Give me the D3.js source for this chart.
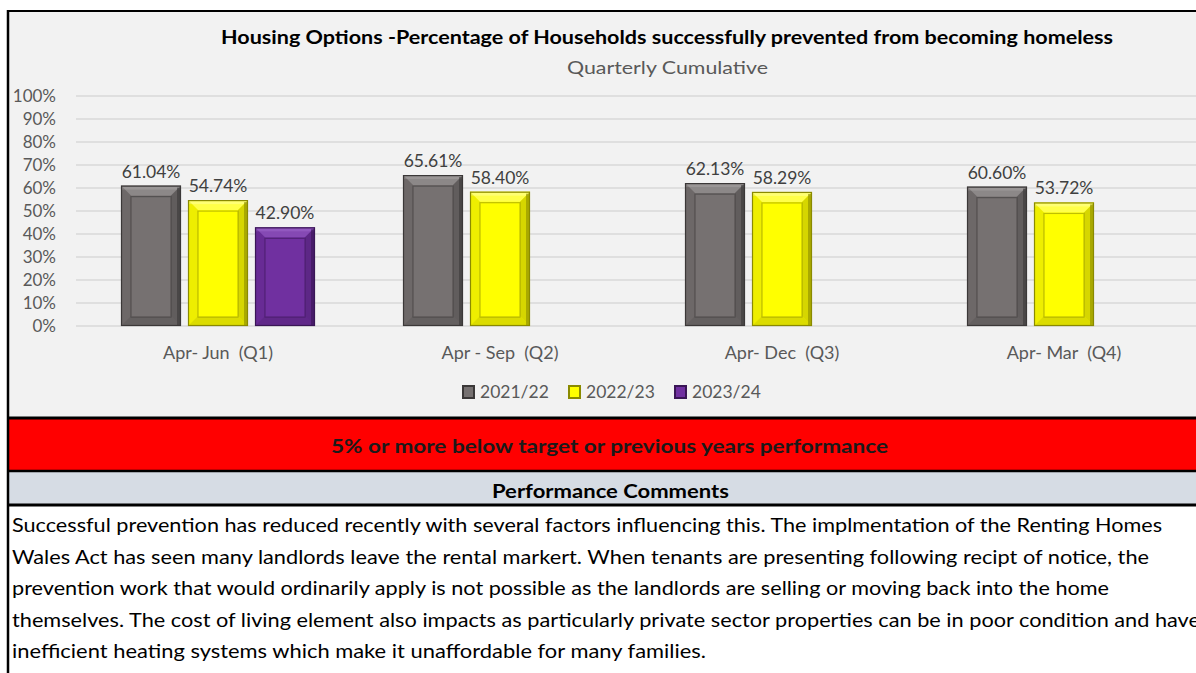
<!DOCTYPE html>
<html>
<head>
<meta charset="utf-8">
<script src="https://cdn.jsdelivr.net/npm/d3@7"></script>
<style>
  body { margin: 0; background: #fff; }
  svg { display: block; font-family: Lato, "Noto Sans", sans-serif; }
  text { white-space: pre; }
</style>
</head>
<body>
<script>
// chart values
var quarters = ["Apr- Jun  (Q1)", "Apr - Sep  (Q2)", "Apr- Dec  (Q3)", "Apr- Mar  (Q4)"];
var years = ["2021/22", "2022/23", "2023/24"];
var vals2122 = [61.04, 65.61, 62.13, 60.60];
var vals2223 = [54.74, 58.40, 58.29, 53.72];
var vals2324 = [42.90, null, null, null];
var yTicks = [0, 10, 20, 30, 40, 50, 60, 70, 80, 90, 100];

var titleText = "Housing Options -Percentage of Households successfully prevented from becoming homeless";
var subText = "Quarterly Cumulative";
var ragText = "5% or more below target or previous years performance";
var commentHead = "Performance Comments";
var commentLines = [
  "Successful prevention has reduced recently with several factors influencing this. The implmentation of the Renting Homes",
  "Wales Act has seen many landlords leave the rental markert. When tenants are presenting following recipt of notice, the",
  "prevention work that would ordinarily apply is not possible as the landlords are selling or moving back into the home",
  "themselves. The cost of living element also impacts as particularly private sector properties can be in poor condition and have",
  "inefficient heating systems which make it unaffordable for many families."
];
var commentWidths = [1150, 1137, 1097, 1188, 694];

var w = 1196, h = 673;

var palette = {
  "2021/22": {base: "#767171", dark: "#3b3838", light: "#a8a4a4"},
  "2022/23": {base: "#ffff00", dark: "#8a8a00", light: "#ffffa0"},
  "2023/24": {base: "#7030a0", dark: "#3a1656", light: "#a068cc"}
};

var series = years.map(function(y, i) {
  return {year: y, values: [vals2122, vals2223, vals2324][i]};
});

var svg = d3.select("body").append("svg").attr("width", w).attr("height", h);

// chart panel
svg.append("rect").attr("x", 8).attr("y", 11).attr("width", w).attr("height", 407)
  .attr("fill", "#f2f2f2");
svg.append("line").attr("x1", 7).attr("x2", w).attr("y1", 11).attr("y2", 11)
  .attr("stroke", "#000").attr("stroke-width", 2);

var y = d3.scaleLinear().domain([0, 100]).range([326, 96]);
var x0 = d3.scaleBand().domain(quarters).range([77, 1205]);
var x1 = d3.scaleBand().domain(years).range([-100.5, 100.5])
  .paddingInner(7 / 67).paddingOuter(3.5 / 67);

function fit(sel, width) {
  sel.attr("textLength", width).attr("lengthAdjust", "spacingAndGlyphs");
  return sel;
}

// gridlines + y labels
svg.append("g").selectAll("line").data(yTicks).enter().append("line")
  .attr("x1", 76).attr("x2", w)
  .attr("y1", function(d) { return y(d); }).attr("y2", function(d) { return y(d); })
  .attr("stroke", "#d9d9d9").attr("stroke-width", 1.3);

svg.append("g").selectAll("text").data(yTicks).enter().append("text")
  .attr("x", 56).attr("y", function(d) { return y(d) + 6; })
  .attr("text-anchor", "end").attr("fill", "#595959").style("font-size", "17px")
  .text(function(d) { return d + "%"; });

// title
fit(svg.append("text").attr("x", 221).attr("y", 44)
  .style("font-size", "18.5px").style("font-weight", "bold").attr("fill", "#000")
  .text(titleText), 892);
fit(svg.append("text").attr("x", 567).attr("y", 74)
  .style("font-size", "18px").attr("fill", "#595959")
  .text(subText), 201);

// bars
var groups = svg.append("g").selectAll("g").data(quarters).enter().append("g")
  .attr("transform", function(q) { return "translate(" + (x0(q) + x0.bandwidth() / 2) + ",0)"; });

var bars = groups.selectAll(".bar")
  .data(function(q, qi) {
    return series.map(function(s) { return {year: s.year, value: s.values[qi]}; })
      .filter(function(d) { return d.value != null; });
  })
  .enter().append("g").attr("class", "bar");

bars.each(function(d) {
  var g = d3.select(this);
  var c = palette[d.year];
  var bx = x1(d.year), bw = x1.bandwidth();
  var by = y(d.value), bh = y(0) - y(d.value);
  var b = 10;
  g.append("rect").attr("x", bx).attr("y", by).attr("width", bw).attr("height", bh)
    .attr("fill", c.base);
  // top highlight
  g.append("polygon").attr("points", [[bx, by], [bx + bw, by], [bx + bw - b, by + b], [bx + b, by + b]].join(" "))
    .attr("fill", c.light).attr("opacity", 0.45);
  g.append("rect").attr("x", bx + 1).attr("y", by + 1).attr("width", bw - 2).attr("height", 3)
    .attr("fill", c.light).attr("opacity", 0.5);
  // left
  g.append("polygon").attr("points", [[bx, by], [bx + b, by + b], [bx + b, by + bh - b], [bx, by + bh]].join(" "))
    .attr("fill", c.dark).attr("opacity", 0.15);
  // right shadow
  g.append("polygon").attr("points", [[bx + bw, by], [bx + bw, by + bh], [bx + bw - b, by + bh - b], [bx + bw - b, by + b]].join(" "))
    .attr("fill", c.dark).attr("opacity", 0.35);
  g.append("rect").attr("x", bx + bw - 4).attr("y", by + 2).attr("width", 3).attr("height", bh - 3)
    .attr("fill", c.dark).attr("opacity", 0.6);
  // bottom
  g.append("polygon").attr("points", [[bx, by + bh], [bx + bw, by + bh], [bx + bw - b, by + bh - b], [bx + b, by + bh - b]].join(" "))
    .attr("fill", c.dark).attr("opacity", 0.3);
  // inner panel
  g.append("rect").attr("x", bx + b).attr("y", by + b + 1).attr("width", bw - 2 * b).attr("height", bh - 2 * b)
    .attr("fill", c.base).attr("stroke", c.dark).attr("stroke-opacity", 0.55).attr("stroke-width", 1.2);
  g.append("rect").attr("x", bx + 0.5).attr("y", by + 0.5).attr("width", bw - 1).attr("height", bh - 1)
    .attr("fill", "none").attr("stroke", c.dark).attr("stroke-width", 1.2);
  g.append("text").attr("x", bx + bw / 2).attr("y", by - 8)
    .attr("text-anchor", "middle").attr("fill", "#404040").style("font-size", "17.5px")
    .text(d.value.toFixed(2) + "%");
});

// category labels
svg.append("g").selectAll("text").data(quarters).enter().append("text")
  .attr("x", function(q) { return x0(q) + x0.bandwidth() / 2; }).attr("y", 359)
  .attr("text-anchor", "middle").attr("fill", "#595959").style("font-size", "18px")
  .text(function(q) { return q; });

// legend
var legendX = [463, 569, 675];
var leg = svg.append("g").selectAll("g").data(years).enter().append("g")
  .attr("transform", function(d, i) { return "translate(" + legendX[i] + ",386)"; });
leg.append("rect").attr("width", 11).attr("height", 12)
  .attr("fill", function(d) { return palette[d].base; })
  .attr("stroke", function(d) { return palette[d].dark; }).attr("stroke-width", 2);
leg.append("text").attr("x", 17).attr("y", 12)
  .attr("fill", "#595959").style("font-size", "17.5px")
  .text(function(d) { return d; });

// RAG band and comments
svg.append("rect").attr("x", 8).attr("y", 419).attr("width", w).attr("height", 52).attr("fill", "#ff0000");
svg.append("rect").attr("x", 8).attr("y", 472).attr("width", w).attr("height", 33).attr("fill", "#d6dce4");
svg.append("rect").attr("x", 8).attr("y", 506).attr("width", w).attr("height", h - 506).attr("fill", "#fff");
[[418, 3], [471, 2.5], [505, 3]].forEach(function(l) {
  svg.append("line").attr("x1", 7).attr("x2", w).attr("y1", l[0]).attr("y2", l[0])
    .attr("stroke", "#000").attr("stroke-width", l[1]);
});
svg.append("line").attr("x1", 8).attr("x2", 8).attr("y1", 10).attr("y2", h)
  .attr("stroke", "#000").attr("stroke-width", 2.5);

fit(svg.append("text").attr("x", 331).attr("y", 453)
  .style("font-size", "18px").style("font-weight", "bold").attr("fill", "#1a1a1a")
  .text(ragText), 557);
fit(svg.append("text").attr("x", 492).attr("y", 498)
  .style("font-size", "18px").style("font-weight", "bold").attr("fill", "#000")
  .text(commentHead), 237);

svg.append("g").selectAll("text").data(commentLines).enter().append("text")
  .attr("x", 12).attr("y", function(d, i) { return 532 + i * 31.5; })
  .attr("fill", "#000").style("font-size", "19px")
  .attr("textLength", function(d, i) { return commentWidths[i]; })
  .attr("lengthAdjust", "spacingAndGlyphs")
  .text(function(d) { return d; });
</script>
</body>
</html>
